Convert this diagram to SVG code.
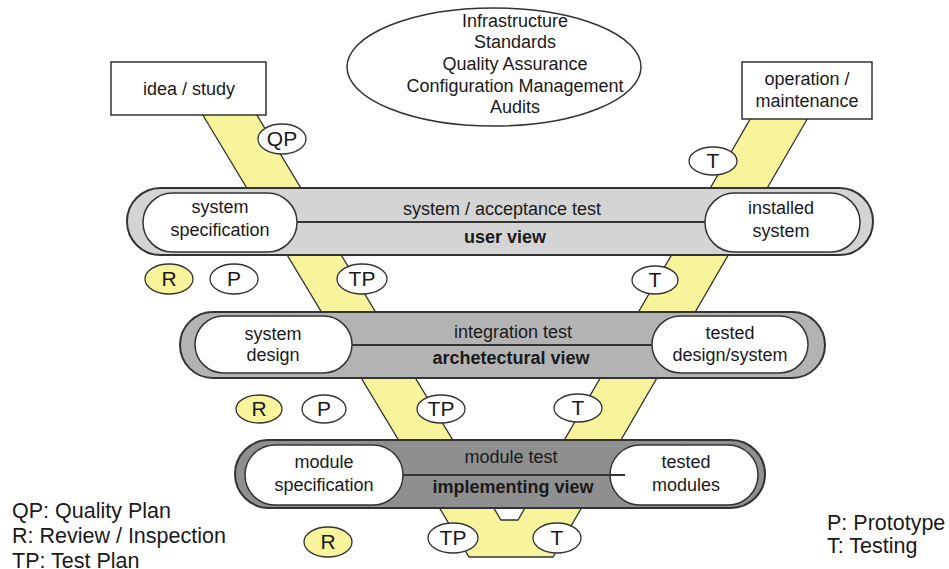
<svg xmlns="http://www.w3.org/2000/svg" width="949" height="569" viewBox="0 0 949 569">
  <style>
    text { font-family: "Liberation Sans", Arial, sans-serif; fill: #1a1a1a; }
    .t18 { font-size: 18px; text-anchor: middle; }
    .b18 { font-size: 18px; text-anchor: middle; font-weight: bold; }
    .lbl { font-size: 21px; text-anchor: middle; }
    .leg { font-size: 21.5px; }
    .box { fill: #ffffff; stroke: #333333; stroke-width: 1.5; }
    .band { stroke: #333333; stroke-width: 2; }
    .pill { fill: #ffffff; stroke: #333333; stroke-width: 1.5; }
    .mid { stroke: #333333; stroke-width: 1.8; }
    .tag { stroke: #333333; stroke-width: 1.3; }
    .white { fill: #ffffff; }
    .yellow { fill: #f7f49c; }
  </style>

  <!-- V-shaped yellow flow running behind the levels -->
  <g id="connectors">
    <polygon points="201,112 255,112 501,520 518,520 752,116 809,116 553,557 469,557"
             fill="#f7f49c" stroke="#333333" stroke-width="1.3" stroke-linejoin="miter"/>
  </g>

  <!-- cross-cutting activities -->
  <g id="support">
    <ellipse cx="494" cy="67" rx="147" ry="59" fill="#ffffff" stroke="#333333" stroke-width="1.5"/>
    <text class="t18" x="515" y="27">Infrastructure</text>
    <text class="t18" x="515" y="48">Standards</text>
    <text class="t18" x="515" y="70">Quality Assurance</text>
    <text class="t18" x="515" y="92">Configuration Management</text>
    <text class="t18" x="515" y="113">Audits</text>
  </g>

  <g id="idea">
    <rect class="box" x="111" y="62" width="155" height="53"/>
    <text class="t18" x="189" y="95">idea / study</text>
  </g>

  <g id="operation">
    <rect class="box" x="742" y="62" width="130" height="57"/>
    <text class="t18" x="807" y="85">operation /</text>
    <text class="t18" x="807" y="107">maintenance</text>
  </g>

  <!-- level 1: user view -->
  <g id="level-user">
    <rect class="band" x="127" y="188" width="746" height="67" rx="33.5" fill="#d4d4d4"/>
    <line class="mid" x1="297" y1="222" x2="705" y2="222"/>
    <rect class="pill" x="143" y="193" width="154" height="59" rx="29.5"/>
    <rect class="pill" x="705" y="193" width="155" height="59" rx="29.5"/>
    <text class="t18" x="502" y="215">system / acceptance test</text>
    <text class="b18" x="505" y="243">user view</text>
    <text class="t18" x="220" y="213">system</text>
    <text class="t18" x="220" y="236">specification</text>
    <text class="t18" x="781" y="214">installed</text>
    <text class="t18" x="781" y="237">system</text>
  </g>

  <!-- level 2: architectural view -->
  <g id="level-architecture">
    <rect class="band" x="180" y="312" width="645" height="66" rx="33" fill="#b3b3b3"/>
    <line class="mid" x1="352" y1="345" x2="652" y2="345"/>
    <rect class="pill" x="195" y="316" width="157" height="57" rx="28.5"/>
    <rect class="pill" x="652" y="316" width="156" height="57" rx="28.5"/>
    <text class="t18" x="513" y="338">integration test</text>
    <text class="b18" x="511" y="364">archetectural view</text>
    <text class="t18" x="273" y="340">system</text>
    <text class="t18" x="273" y="361">design</text>
    <text class="t18" x="730" y="339">tested</text>
    <text class="t18" x="730" y="361">design/system</text>
  </g>

  <!-- level 3: implementing view -->
  <g id="level-implementation">
    <rect class="band" x="235" y="440" width="530" height="68" rx="34" fill="#8f8f8f"/>
    <rect class="pill" x="245" y="445" width="158" height="60" rx="30"/>
    <rect class="pill" x="610" y="445" width="148" height="60" rx="30"/>
    <line class="mid" x1="403" y1="475" x2="625" y2="475"/>
    <text class="t18" x="511" y="463">module test</text>
    <text class="b18" x="513" y="493">implementing view</text>
    <text class="t18" x="324" y="468">module</text>
    <text class="t18" x="324" y="491">specification</text>
    <text class="t18" x="686" y="468">tested</text>
    <text class="t18" x="686" y="491">modules</text>
  </g>

  <!-- activity tags -->
  <g id="tag-qp"><ellipse class="tag white" cx="282" cy="139" rx="24" ry="15"/><text class="lbl" x="282" y="146">QP</text></g>
  <g id="tag-t0"><ellipse class="tag white" cx="713" cy="161" rx="24" ry="14"/><text class="lbl" x="713" y="168">T</text></g>

  <g id="tag-r1"><ellipse class="tag yellow" cx="169" cy="279" rx="24" ry="15"/><text class="lbl" x="169" y="286">R</text></g>
  <g id="tag-p1"><ellipse class="tag white" cx="234" cy="279" rx="24" ry="15"/><text class="lbl" x="234" y="286">P</text></g>
  <g id="tag-tp1"><ellipse class="tag white" cx="362" cy="279" rx="25" ry="15"/><text class="lbl" x="362" y="286">TP</text></g>
  <g id="tag-t1"><ellipse class="tag white" cx="655" cy="280" rx="23" ry="14"/><text class="lbl" x="655" y="287">T</text></g>

  <g id="tag-r2"><ellipse class="tag yellow" cx="259" cy="409" rx="23" ry="14"/><text class="lbl" x="259" y="416">R</text></g>
  <g id="tag-p2"><ellipse class="tag white" cx="324" cy="409" rx="22" ry="14"/><text class="lbl" x="324" y="416">P</text></g>
  <g id="tag-tp2"><ellipse class="tag white" cx="441" cy="409" rx="24" ry="14"/><text class="lbl" x="441" y="416">TP</text></g>
  <g id="tag-t2"><ellipse class="tag white" cx="578" cy="408" rx="24" ry="14"/><text class="lbl" x="578" y="415">T</text></g>

  <g id="tag-r3"><ellipse class="tag yellow" cx="328" cy="542" rx="24" ry="15"/><text class="lbl" x="328" y="549">R</text></g>
  <g id="tag-tp3"><ellipse class="tag white" cx="453" cy="538" rx="25" ry="15"/><text class="lbl" x="453" y="545">TP</text></g>
  <g id="tag-t3"><ellipse class="tag white" cx="557" cy="538" rx="24" ry="15"/><text class="lbl" x="557" y="545">T</text></g>

  <!-- legend -->
  <g id="legend-left">
    <text class="leg" x="12" y="518">QP: Quality Plan</text>
    <text class="leg" x="12" y="543">R: Review / Inspection</text>
    <text class="leg" x="12" y="568">TP: Test Plan</text>
  </g>
  <g id="legend-right">
    <text class="leg" x="827" y="530">P: Prototype</text>
    <text class="leg" x="827" y="553">T: Testing</text>
  </g>
</svg>
